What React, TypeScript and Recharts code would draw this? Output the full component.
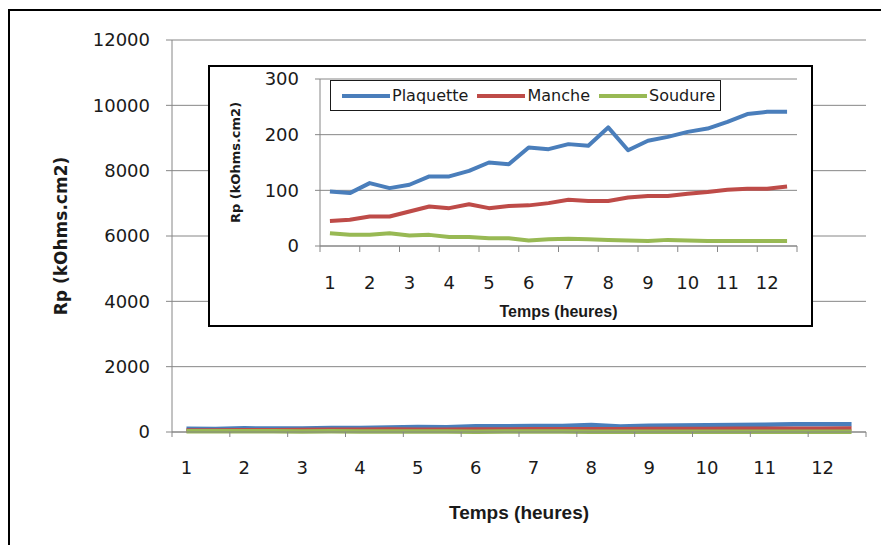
import React from 'react';
import { LineChart, Line, XAxis, YAxis, CartesianGrid, Legend, Label } from 'recharts';

// ---- Data ----
const heures = [1, 1.5, 2, 2.5, 3, 3.5, 4, 4.5, 5, 5.5, 6, 6.5, 7, 7.5, 8, 8.5, 9, 9.5, 10, 10.5, 11, 11.5, 12, 12.5];
const plaquette = [98, 95, 113, 104, 110, 125, 125, 135, 150, 147, 177, 174, 183, 180, 213, 172, 189, 196, 205, 211, 223, 237, 241, 241];
const manche = [45, 47, 53, 53, 62, 71, 68, 75, 68, 72, 73, 77, 83, 81, 81, 87, 90, 90, 94, 97, 101, 103, 103, 107];
const soudure = [23, 20, 20, 23, 19, 20, 16, 16, 14, 14, 10, 12, 13, 12, 11, 10, 9, 11, 10, 9, 9, 9, 9, 9];
const outerYTicks = [0, 2000, 4000, 6000, 8000, 10000, 12000];
const insetYTicks = [0, 100, 200, 300];
const seriesNames = ['Plaquette', 'Manche', 'Soudure'];
const seriesColors = ['#4A7EBB', '#BE4B48', '#98B954'];
const xTitle = 'Temps (heures)';
const yTitle = 'Rp (kOhms.cm2)';

const seriesValues = [plaquette, manche, soudure];
const data = heures.map((h, i) => {
  const row: any = { h };
  seriesNames.forEach((n, s) => { row[n] = seriesValues[s][i]; });
  return row;
});

const AXIS = '#868686';
const TICK_FONT = 'DejaVu Sans, sans-serif';
const TITLE_FONT = 'Liberation Sans, Arial, sans-serif';

const OUTER_HALF = 694 / 48;
const INSET_HALF = 477 / 48;

const makeXTick = (labelDy: number, tickLen: number, half: number, count: number, fontSize: number) => (props: any) => {
  const { x, y, payload, index } = props;
  const i = payload && typeof payload.index === 'number' ? payload.index : index;
  const val = payload ? payload.value : undefined;
  const showLabel = Number.isInteger(val);
  return (
    <g>
      {i % 2 === 0 && <line x1={x - half} x2={x - half} y1={y} y2={y + tickLen} stroke={AXIS} strokeWidth={1} />}
      {i === count - 1 && <line x1={x + half} x2={x + half} y1={y} y2={y + tickLen} stroke={AXIS} strokeWidth={1} />}
      {showLabel && (
        <text x={x} y={y + labelDy} textAnchor="middle" fontSize={fontSize} fontFamily={TICK_FONT} fill="#1a1a1a">
          {String(val)}
        </text>
      )}
    </g>
  );
};

const yTitleContent = (dx: number, fontSize: number, font: string) => (props: any) => {
  const vb = props.viewBox || {};
  const cx = (vb.x || 0) + dx;
  const cy = (vb.y || 0) + (vb.height || 0) / 2;
  return (
    <text x={cx} y={cy} transform={`rotate(-90 ${cx} ${cy})`} textAnchor="middle" dominantBaseline="central"
      fontSize={fontSize} fontFamily={font} fontWeight="bold" fill="#1a1a1a">
      {yTitle}
    </text>
  );
};

const xTitleContent = (dy: number, fontSize: number) => (props: any) => {
  const vb = props.viewBox || {};
  const cx = (vb.x || 0) + (vb.width || 0) / 2;
  const cy = (vb.y || 0) + dy;
  return (
    <text x={cx} y={cy} textAnchor="middle" fontSize={fontSize} fontFamily={TITLE_FONT} fontWeight="bold" fill="#1a1a1a">
      {xTitle}
    </text>
  );
};

const LegendBox = () => (
  <div style={{
    boxSizing: 'border-box', width: 391, height: 31, border: '1.5px solid #1a1a1a', background: '#fff',
    display: 'flex', alignItems: 'center', paddingLeft: 11,
  }}>
    {seriesNames.map((n, i) => (
      <div key={n} style={{ display: 'flex', alignItems: 'center', marginRight: 9 }}>
        <svg width={48} height={6} style={{ display: 'block' }}>
          <line x1={0} x2={48} y1={3} y2={3} stroke={seriesColors[i]} strokeWidth={4} />
        </svg>
        <span style={{ marginLeft: 2, fontFamily: TICK_FONT, fontSize: 16, color: '#1a1a1a', lineHeight: '18px' }}>{n}</span>
      </div>
    ))}
  </div>
);

export default function App() {
  const count = heures.length;
  return (
    <div style={{ position: 'fixed', left: 0, top: 0, width: 881, height: 545, overflow: 'hidden', background: '#fff' }}>
      <div style={{ position: 'absolute', left: 8, top: 9, width: 960, height: 620, border: '2px solid #000' }} />
      <div style={{ position: 'absolute', left: 0, top: 0 }}>
        <LineChart width={881} height={545} data={data} margin={{ top: 40, right: 15, left: 0, bottom: 0 }}>
          <CartesianGrid vertical={false} stroke={AXIS} strokeWidth={1} />
          <XAxis dataKey="h" type="category" height={113} interval={0} tickSize={0} tickMargin={0}
            padding={{ left: OUTER_HALF, right: OUTER_HALF }}
            axisLine={{ stroke: AXIS }} tickLine={false}
            tick={makeXTick(42, 5, OUTER_HALF, count, 18)}>
            <Label content={xTitleContent(87, 19)} />
          </XAxis>
          <YAxis domain={[0, 12000]} ticks={outerYTicks} interval={0} width={172} tickSize={6} tickMargin={16}
            axisLine={{ stroke: AXIS }} tickLine={{ stroke: AXIS }}
            tick={{ fontSize: 18, fontFamily: TICK_FONT, fill: '#1a1a1a' }}>
            <Label content={yTitleContent(61, 17, 'DejaVu Sans, sans-serif')} />
          </YAxis>
          {seriesNames.map((n, i) => (
            <Line key={n} type="linear" dataKey={n} stroke={seriesColors[i]} strokeWidth={4.5} dot={false}
              strokeLinejoin="round" isAnimationActive={false} />
          ))}
        </LineChart>
      </div>
      <div style={{ position: 'absolute', left: 208, top: 65, width: 605, height: 262, border: '2px solid #000', boxSizing: 'border-box', background: '#fff' }}>
        <LineChart width={601} height={258} data={data} margin={{ top: 12, right: 14, left: 0, bottom: 0 }}>
          <CartesianGrid vertical={false} stroke={AXIS} strokeWidth={1} />
          <XAxis dataKey="h" type="category" height={79} interval={0} tickSize={0} tickMargin={0}
            padding={{ left: INSET_HALF, right: INSET_HALF }}
            axisLine={{ stroke: AXIS }} tickLine={false}
            tick={makeXTick(43, 6, INSET_HALF, count, 18)}>
            <Label content={xTitleContent(71, 16)} />
          </XAxis>
          <YAxis domain={[0, 300]} ticks={insetYTicks} interval={0} width={110} tickSize={5} tickMargin={16}
            axisLine={{ stroke: AXIS }} tickLine={{ stroke: AXIS }}
            tick={{ fontSize: 18, fontFamily: TICK_FONT, fill: '#1a1a1a' }}>
            <Label content={yTitleContent(25, 13, 'DejaVu Sans, sans-serif')} />
          </YAxis>
          <Legend verticalAlign="middle" align="center" layout="horizontal"
            wrapperStyle={{ left: 120, top: 13, width: 391, height: 31 }}
            content={() => <LegendBox />} />
          {seriesNames.map((n, i) => (
            <Line key={n} type="linear" dataKey={n} stroke={seriesColors[i]} strokeWidth={4} dot={false}
              strokeLinejoin="round" isAnimationActive={false} />
          ))}
        </LineChart>
      </div>
    </div>
  );
}
